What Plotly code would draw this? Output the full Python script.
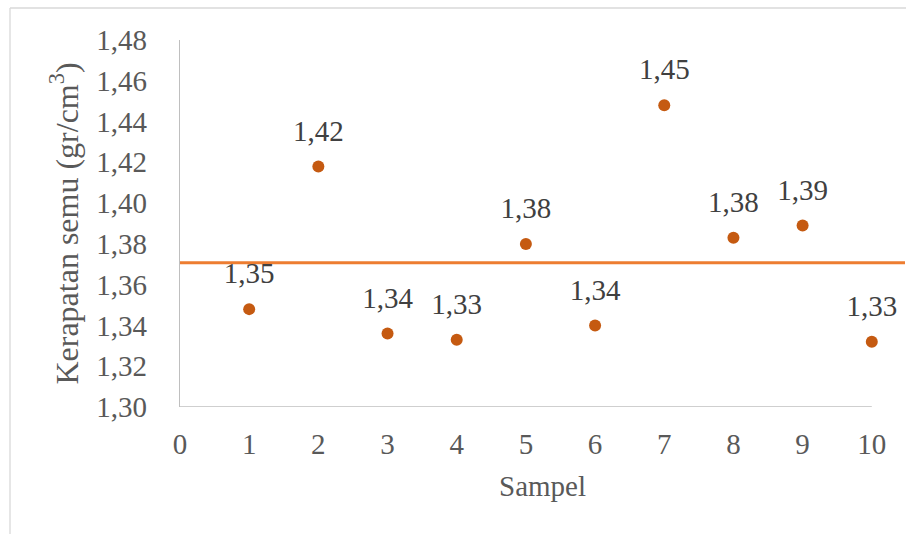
import plotly.graph_objects as go

# Data
samples = [1, 2, 3, 4, 5, 6, 7, 8, 9, 10]
density = [1.348, 1.418, 1.336, 1.333, 1.380, 1.340, 1.448, 1.383, 1.389, 1.332]
x_ticks = [0, 1, 2, 3, 4, 5, 6, 7, 8, 9, 10]
y_min, y_max, y_step = 1.30, 1.48, 0.02
x_max = 10.48

mean_val = sum(density) / len(density)

FONT = "Liberation Serif, Times New Roman, DejaVu Serif, serif"

fig = go.Figure()

fig.add_trace(go.Scatter(
    x=[0, x_max], y=[mean_val, mean_val], mode="lines",
    line=dict(color="#ED7D31", width=3), hoverinfo="skip", showlegend=False,
    cliponaxis=False,
))

fig.add_trace(go.Scatter(
    x=samples, y=density, mode="markers",
    marker=dict(color="#C55A11", size=12),
    showlegend=False, cliponaxis=False,
))

# data labels (transparent larger marker to set the label offset)
fig.add_trace(go.Scatter(
    x=samples, y=density, mode="markers+text",
    marker=dict(color="rgba(0,0,0,0)", size=28),
    texttemplate="%{y:.2f}", textposition="top center",
    textfont=dict(family=FONT, size=29, color="#404040"),
    showlegend=False, cliponaxis=False, hoverinfo="skip",
))

# x axis line from 0 to 10 only
fig.add_shape(type="line", xref="x", yref="y",
              x0=x_ticks[0], x1=x_ticks[-1], y0=y_min, y1=y_min,
              line=dict(color="#BFBFBF", width=1.3), layer="below")

# outer chart border (cropped)
fig.add_shape(type="line", xref="paper", yref="paper",
              x0=(10 - 180) / 725, x1=1.05, y0=(407 - 8) / 367, y1=(407 - 8) / 367,
              line=dict(color="#D9D9D9", width=1.3))
fig.add_shape(type="line", xref="paper", yref="paper",
              x0=(10 - 180) / 725, x1=(10 - 180) / 725, y0=(407 - 8) / 367, y1=-0.5,
              line=dict(color="#D9D9D9", width=1.3))

fig.update_layout(
    width=906, height=534,
    margin=dict(l=180, r=1, t=40, b=127),
    paper_bgcolor="white", plot_bgcolor="white",
    separators=",.",
    font=dict(family=FONT, color="#595959"),
    xaxis=dict(
        range=[0, x_max], tickvals=x_ticks, showgrid=False, zeroline=False,
        showline=False, ticks="", ticklabelstandoff=17,
        tickfont=dict(family=FONT, size=29, color="#595959"),
        title=dict(text="Sampel", font=dict(family=FONT, size=29, color="#595959"), standoff=16),
    ),
    yaxis=dict(
        range=[y_min, y_max], dtick=y_step, tick0=y_min, tickformat=".2f",
        showgrid=False, zeroline=False, showline=True, linecolor="#BFBFBF", linewidth=1.3,
        ticks="", ticklabelstandoff=26,
        tickfont=dict(family=FONT, size=29, color="#595959"),
        title=dict(text="Kerapatan semu (gr/cm<sup>3</sup>)",
                   font=dict(family=FONT, size=32, color="#595959"), standoff=8),
    ),
)

fig.write_html("out.html")
